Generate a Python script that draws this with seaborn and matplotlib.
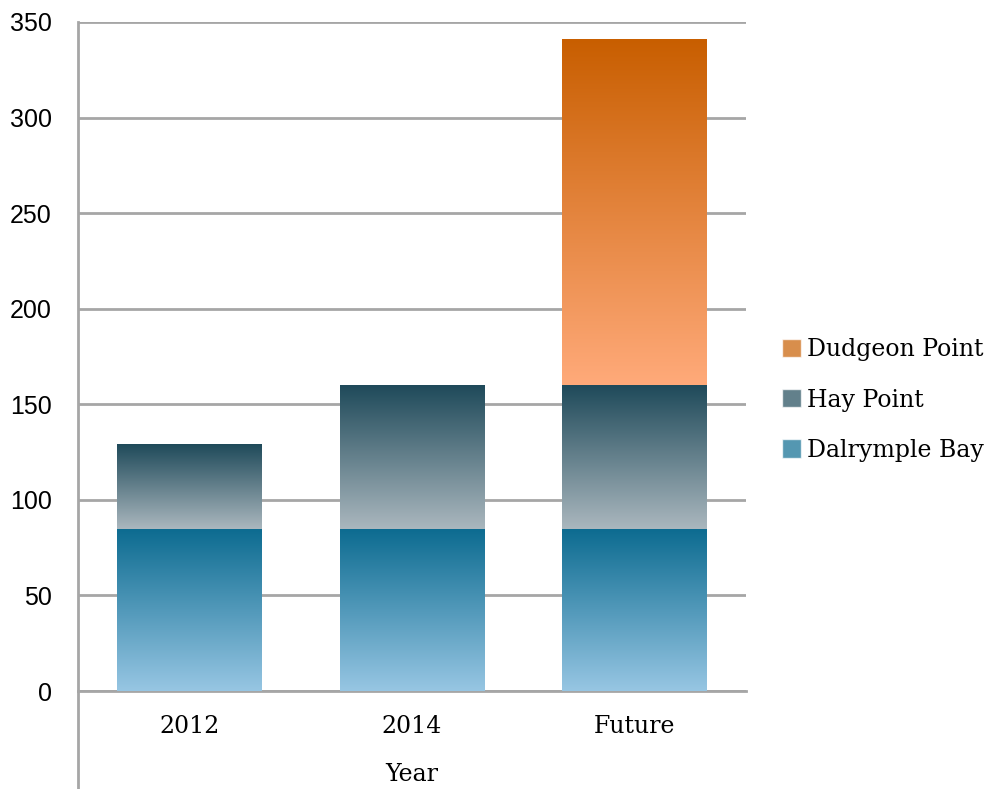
import numpy as np
import pandas as pd
import matplotlib
matplotlib.use("Agg")
import matplotlib.pyplot as plt
import seaborn as sns
from matplotlib.colors import LinearSegmentedColormap
from matplotlib.patches import Patch

# Port capacity by year (stacked)
years = ["2012", "2014", "Future"]
dalrymple_bay = [85, 85, 85]
hay_point = [44, 75, 75]
dudgeon_point = [0, 0, 181]

series_names = ["Dalrymple Bay", "Hay Point", "Dudgeon Point"]
# (bottom colour, top colour) for each gradient
grad_colors = [("#97c6e3", "#0c6b90"),
               ("#aab7be", "#1f4a5a"),
               ("#ffaa7a", "#c85e00")]

sns.set_style("white")
plt.rcParams["font.family"] = ["DejaVu Serif"]
plt.rcParams["text.color"] = "black"
plt.rcParams["xtick.color"] = "black"
plt.rcParams["ytick.color"] = "black"
plt.rcParams["axes.labelcolor"] = "black"

fig = plt.figure(figsize=(10, 7.89), dpi=100)
ax = fig.add_axes([0.078, 0.1242, 0.668, 0.848])

values = [dalrymple_bay, hay_point, dudgeon_point]
bottoms = np.zeros(len(years))
for name, vals, (c0, c1) in zip(series_names, values, grad_colors):
    sns.barplot(x=years, y=vals, bottom=bottoms, color=c1, width=0.65,
                ax=ax, saturation=1, linewidth=0)
    bottoms = bottoms + np.array(vals)

# paint a vertical gradient inside every bar
grad = np.linspace(0, 1, 256).reshape(-1, 1)
for container, (c0, c1) in zip(ax.containers, grad_colors):
    cmap = LinearSegmentedColormap.from_list("g", [c0, c1])
    for p in container.patches:
        h = p.get_height()
        if h <= 0:
            continue
        x0, y0 = p.get_x(), p.get_y()
        w = p.get_width()
        im = ax.imshow(grad, cmap=cmap, origin="lower", aspect="auto",
                       extent=[x0, x0 + w, y0, y0 + h], zorder=3)
        im.set_clip_path(p)
        p.set_zorder(2)

ax.set_xlim(-0.5, 2.5)
ax.set_ylim(0, 350)
ax.set_yticks(range(0, 351, 50))
ax.yaxis.grid(True, color="#a6a6a6", linewidth=2)
ax.set_axisbelow(True)
for s in ["top", "right"]:
    ax.spines[s].set_visible(False)
for s in ["left", "bottom"]:
    ax.spines[s].set_color("#a6a6a6")
    ax.spines[s].set_linewidth(2)
ax.plot([0, 0], [-0.16, 0], transform=ax.transAxes, color="#a6a6a6",
        linewidth=2, clip_on=False)

ax.tick_params(axis="both", length=0)
ax.tick_params(axis="x", labelsize=17, pad=17)
for lbl in ax.get_yticklabels():
    lbl.set_family(["Liberation Sans", "DejaVu Sans"])
    lbl.set_fontsize(18)
ax.tick_params(axis="y", pad=19)
ax.set_xlabel("Year", fontsize=17, labelpad=18)
ax.set_ylabel("")

handles = [Patch(facecolor=c[1], alpha=0.7) for c in grad_colors][::-1]
fig.legend(handles, series_names[::-1], loc="center left",
           bbox_to_anchor=(0.768, 0.493), frameon=False, fontsize=17,
           handlelength=0.8, handleheight=0.8, handletextpad=0.25,
           labelspacing=1.15, borderaxespad=0.2)

fig.savefig("out.png", dpi=100)
